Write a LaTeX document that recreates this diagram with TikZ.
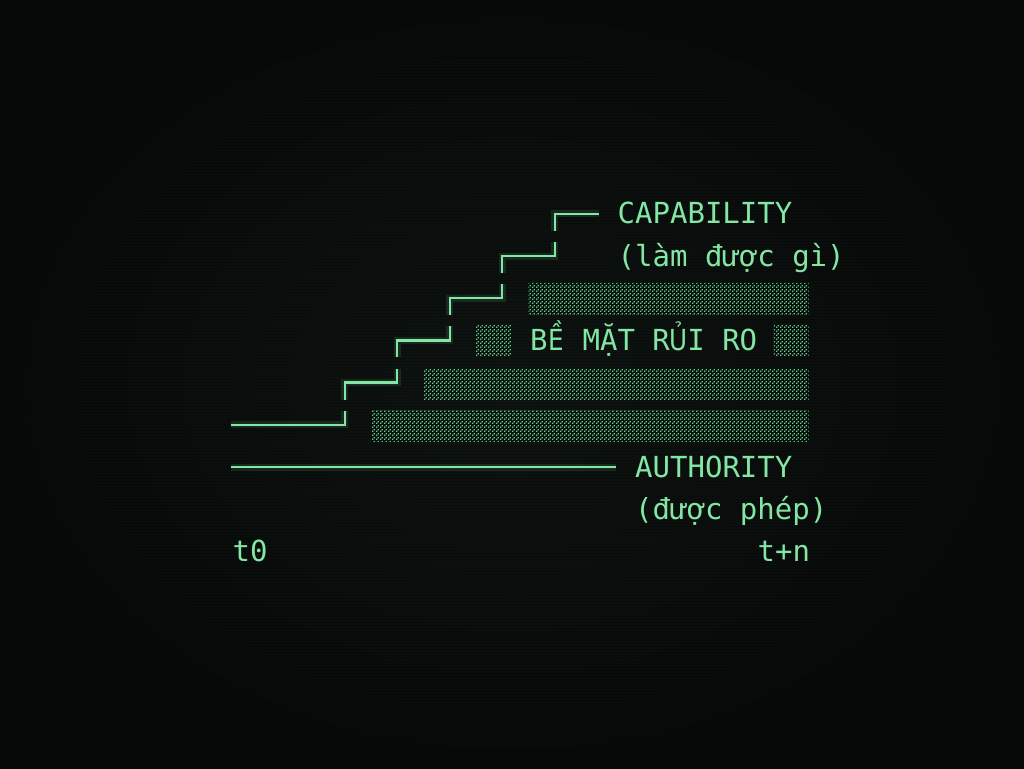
\documentclass[tikz,border=0pt]{standalone}
\usepackage{fontspec}
\usepackage{graphicx}
\setmonofont{DejaVu Sans Mono}
\newfontfamily\vnfont{DejaVu Sans}
\usetikzlibrary{patterns.meta}
\definecolor{termgreen}{RGB}{132,230,164}
\definecolor{dotgreen}{RGB}{96,210,138}
\definecolor{bgin}{RGB}{14,20,17}
\definecolor{bgout}{RGB}{7,10,9}
\tikzstyle{termtext}=[font=\ttfamily\fontsize{29}{35}\selectfont, text=termgreen, anchor=base west, inner sep=0pt]
\tikzstyle{stair}=[draw=termgreen, line width=2.4pt]
\tikzstyle{glow}=[draw=termgreen, line width=7pt, opacity=0.12]
\tikzstyle{riskbar}=[pattern={termdots}, pattern color=dotgreen]
\tikzdeclarepattern{
  name=termdots, type=uncolored,
  bottom left={(0pt,0pt)}, top right={(4pt,4pt)}, tile size={(4pt,4pt)},
  code={\fill (0pt,0pt) rectangle (1.6pt,1.6pt); \fill (2pt,2pt) rectangle (3.6pt,3.6pt);}
}
% one mono cell for letters the mono font lacks
\newcommand{\vncell}[1]{\makebox[0.602em][c]{\scalebox{0.85}[1]{\vnfont #1}}}
\begin{document}
\begin{tikzpicture}[x=1pt, y=-1pt]
   \useasboundingbox (0,0) rectangle (1024,768);
   \path[inner color=bgin, outer color=bgout] (0,0) rectangle (1024,768);
   % scanlines
   \foreach \y in {1,4,...,768}
       \draw[black, opacity=0.18, line width=1pt] (0,\y) -- (1024,\y);

   % risk surface bars
   \foreach \pos in {{(528.5,283) rectangle (808.5,314)},
                     {(476,325) rectangle (511,356)},
                     {(773.5,325) rectangle (808.5,356)},
                     {(423.5,368) rectangle (808.5,399)},
                     {(371,410) rectangle (808.5,441)}}
       \fill[riskbar] \pos;

   % capability staircase
   \foreach \w/\s in {7pt/glow, 2.4pt/stair} {
       \draw[\s] (231,424.8) -- (231+17.5*6+8.75,424.8) -- (231+17.5*6+8.75,410.8);
       \foreach \r/\a/\b in {4/6/9, 3/9/12, 2/12/15, 1/15/18}
           \draw[\s] (231+17.5*\a+8.75, 213.8+42.2*\r+17) -- (231+17.5*\a+8.75, 213.8+42.2*\r)
                  -- (231+17.5*\b+8.75, 213.8+42.2*\r) -- (231+17.5*\b+8.75, 213.8+42.2*\r-14);
       \draw[\s] (231+17.5*18+8.75, 230.8) -- (231+17.5*18+8.75, 213.8) -- (231+17.5*21, 213.8);
       % authority line
       \draw[\s] (231,467) -- (231+17.5*22,467);
   }

   \foreach \c/\r/\name/\label in {22/0/cap/CAPABILITY, 22/1/capnote/(làm được gì),
                                   17/3/risk/B\vncell{Ề} MẶT R\vncell{Ủ}I RO, 23/6/auth/AUTHORITY,
                                   23/7/authnote/(được phép), 0/8/tzero/t0, 30/8/tn/t+n}
       \node[termtext] (\name) at (232.5+17.5*\c, 223.8+42.2*\r) {\label};
\end{tikzpicture}
\end{document}
